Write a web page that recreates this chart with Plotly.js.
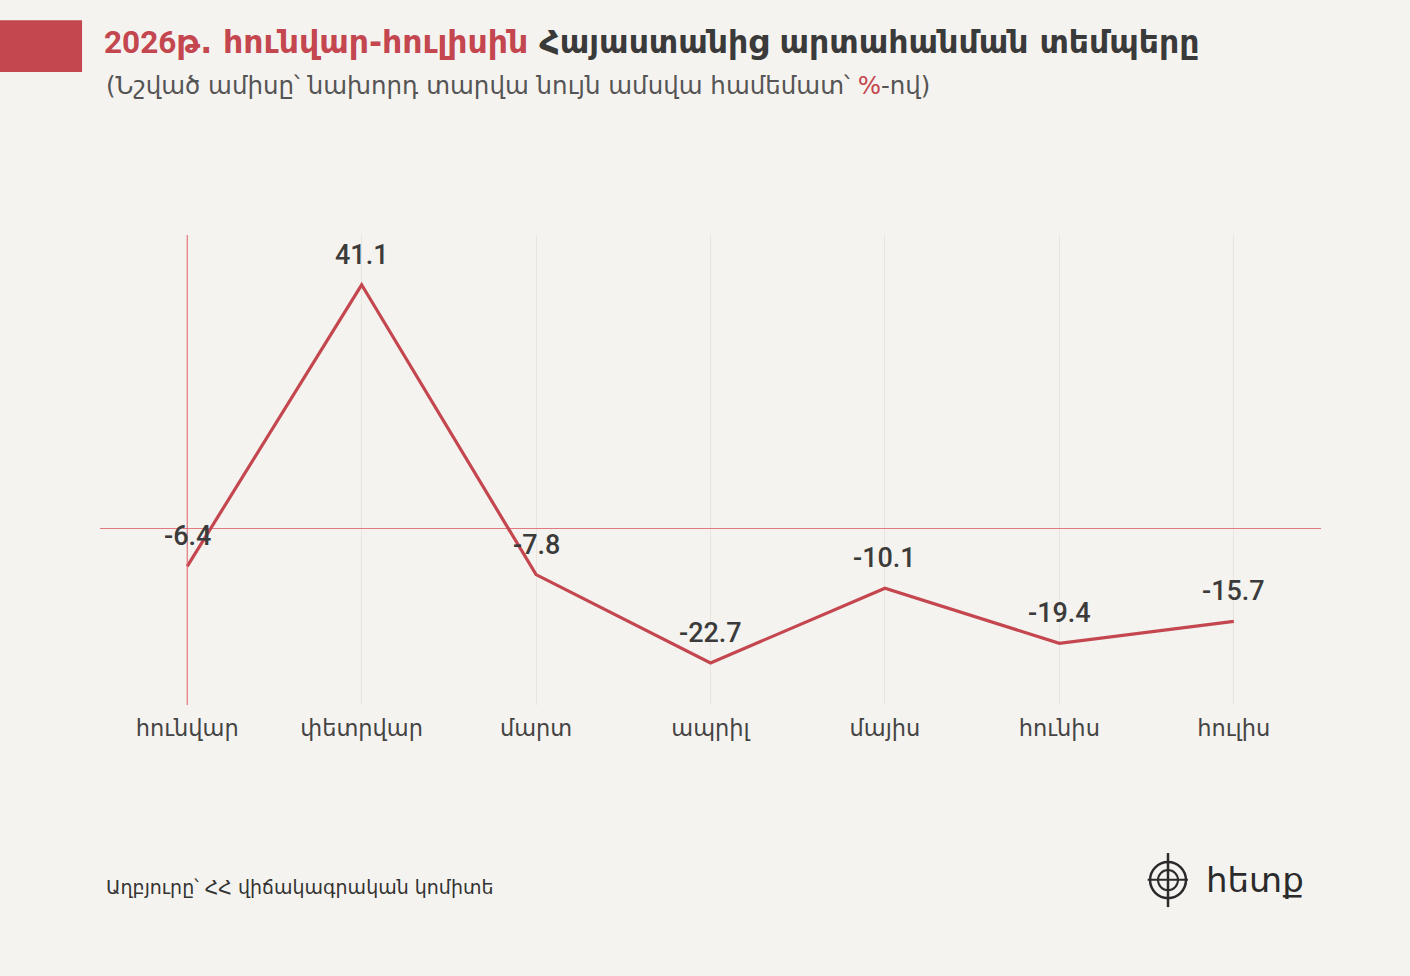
<!DOCTYPE html>
<html>
<head>
<meta charset="utf-8">
<script src="https://cdn.plot.ly/plotly-3.0.1.min.js"></script>
<style>
html,body{margin:0;padding:0;background:#f5f3ef;}
#chart{width:1410px;height:976px;}
</style>
</head>
<body>
<div id="chart"></div>
<script>
const months = ['հունվար','փետրվար','մարտ','ապրիլ','մայիս','հունիս','հուլիս'];
const exportGrowth = [-6.4, 41.1, -7.8, -22.7, -10.1, -19.4, -15.7];
const titleYear = '2026';
const titleRed = 'թ. հունվար-հուլիսին';
const titleDark = 'Հայաստանից արտահանման տեմպերը';
const subtitleText = '(Նշված ամիսը՝ նախորդ տարվա նույն ամսվա համեմատ՝ <span style="color:#c4464f">%</span>-ով)';
const sourceText = 'Աղբյուրը՝ ՀՀ վիճակագրական կոմիտե';
const logoText = 'հետք';

const RED = '#c4464f';
const NUMFONT = 'Roboto, "DejaVu Sans", sans-serif';
const ARMFONT = '"DejaVu Sans", "Noto Sans", sans-serif';

const xIdx = months.map((m, i) => i);

const trace = {
  x: xIdx,
  y: exportGrowth,
  type: 'scatter',
  mode: 'lines',
  line: {color: RED, width: 3.2},
  hoverinfo: 'skip',
  showlegend: false
};

const labelAnns = exportGrowth.map((v, i) => ({
  x: i, y: v, xref: 'x', yref: 'y',
  text: v.toFixed(1),
  showarrow: false,
  yshift: 30,
  font: {family: NUMFONT, size: 27, color: '#3b3b3b', weight: 500}
}));

const annotations = labelAnns.concat([
  {
    xref: 'paper', yref: 'paper', x: 0.0033, y: 1.319,
    xanchor: 'left', yanchor: 'middle', showarrow: false,
    text: subtitleText,
    font: {family: ARMFONT, size: 24.5, color: '#555555'}
  },
  {
    xref: 'paper', yref: 'paper', x: 0.0033, y: -0.387,
    xanchor: 'left', yanchor: 'middle', showarrow: false,
    text: sourceText,
    font: {family: ARMFONT, size: 19, color: '#333333'}
  },
  {
    xref: 'paper', yref: 'paper', x: 0.904, y: -0.372,
    xanchor: 'left', yanchor: 'middle', showarrow: false,
    text: logoText,
    font: {family: ARMFONT, size: 34, color: '#2b2b2b'}
  }
]);

const shapes = [
  {type: 'rect', xref: 'paper', yref: 'paper',
   x0: -0.0819, x1: -0.0147, y0: 1.347, y1: 1.457,
   fillcolor: RED, line: {width: 0}, layer: 'above'},
  {type: 'line', xref: 'x', yref: 'paper', x0: 0, x1: 0, y0: 0, y1: 1,
   line: {color: '#e0626b', width: 1}, layer: 'above'},
  {type: 'circle', xref: 'paper', yref: 'paper',
   x0: 0.8600, x1: 0.8894, y0: -0.411, y1: -0.334,
   line: {color: '#2b2b2b', width: 2.5}},
  {type: 'circle', xref: 'paper', yref: 'paper',
   x0: 0.8665, x1: 0.8829, y0: -0.394, y1: -0.351,
   line: {color: '#2b2b2b', width: 2}},
  {type: 'line', xref: 'paper', yref: 'paper',
   x0: 0.8747, x1: 0.8747, y0: -0.43, y1: -0.315,
   line: {color: '#2b2b2b', width: 2.5}},
  {type: 'line', xref: 'paper', yref: 'paper',
   x0: 0.858, x1: 0.891, y0: -0.372, y1: -0.372,
   line: {color: '#2b2b2b', width: 2}}
];

const layout = {
  width: 1410, height: 976,
  paper_bgcolor: '#f5f3ef',
  plot_bgcolor: '#f5f3ef',
  margin: {l: 100, r: 89, t: 235, b: 271},
  title: {
    text: '<b><span style="color:' + RED + '"><span style="font-family:Roboto">' + titleYear + '</span>' + titleRed + '</span> ' + titleDark + '</b>',
    xref: 'container', yref: 'container',
    x: 0.0738, y: 0.957, xanchor: 'left', yanchor: 'middle',
    font: {family: ARMFONT, size: 31.5, color: '#3a3a3a'}
  },
  xaxis: {
    range: [-0.5, 6.5],
    tickmode: 'array',
    tickvals: xIdx,
    ticktext: months,
    showgrid: true,
    gridcolor: '#e8e5e0',
    gridwidth: 1,
    zeroline: false,
    showline: false,
    ticks: '',
    ticklabelstandoff: 7,
    tickfont: {family: ARMFONT, size: 22.5, color: '#444444'},
    fixedrange: true
  },
  yaxis: {
    range: [-29.8, 49.5],
    showgrid: false,
    showticklabels: false,
    zeroline: true,
    zerolinecolor: '#e07a80',
    zerolinewidth: 1,
    showline: false,
    ticks: '',
    fixedrange: true
  },
  annotations: annotations,
  shapes: shapes,
  showlegend: false
};

Plotly.newPlot('chart', [trace], layout, {displayModeBar: false, staticPlot: true});
</script>
</body>
</html>
